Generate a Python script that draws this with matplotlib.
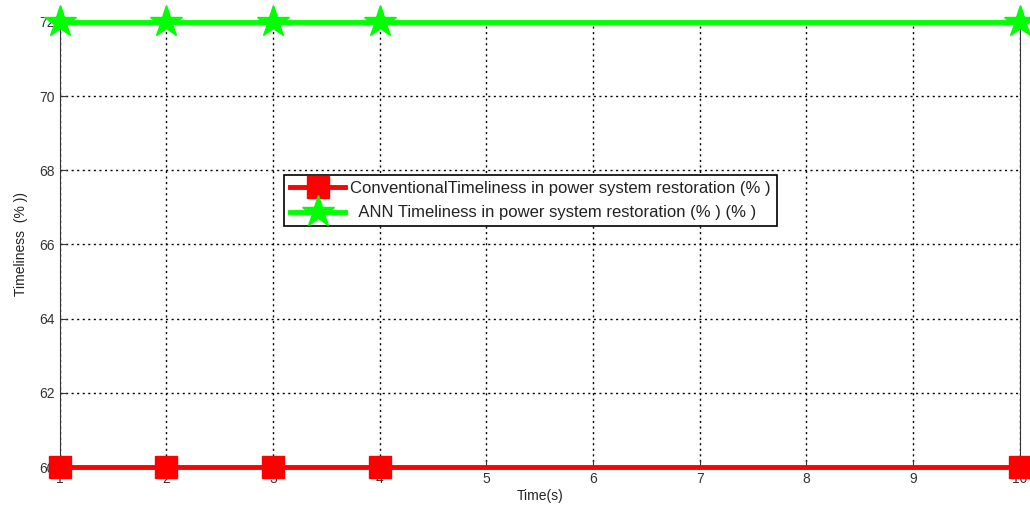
import matplotlib
matplotlib.use("Agg")
import matplotlib.pyplot as plt

plt.rcParams['font.family'] = ['Liberation Sans', 'DejaVu Sans']

time_s = [1, 2, 3, 4, 10]
conventional = [60, 60, 60, 60, 60]
ann = [72, 72, 72, 72, 72]
xticks = list(range(1, 11))
yticks = [60, 62, 64, 66, 68, 70, 72]

fig = plt.figure(figsize=(10.30, 5.18), dpi=100)
ax = fig.add_axes([0.058, 0.098, 0.932, 0.860])

ax.plot(time_s, conventional, color='#ff0000', linewidth=3.5, marker='s',
        markersize=16, label='ConventionalTimeliness in power system restoration (% )',
        clip_on=False, zorder=3)
ax.plot(time_s, ann, color='#00ff00', linewidth=3.5, marker='*',
        markersize=24, label='  ANN Timeliness in power system restoration (% ) (% )',
        clip_on=False, zorder=3)

ax.set_xlim(1, 10)
ax.set_ylim(60, 72)
ax.set_xticks(xticks)
ax.set_yticks(yticks)
ax.tick_params(direction='in', labelsize=10, colors='#333333', length=5)
ax.grid(True, color='black', linestyle=(0, (1.5, 2.5)), linewidth=1)
for s in ax.spines.values():
    s.set_color('#333333')

ax.set_xlabel('Time(s)', fontsize=10, labelpad=2, color='#222222')
ax.set_ylabel('Timeliness  (% ))', fontsize=10, labelpad=8, color='#222222')

leg = ax.legend(loc='upper left', bbox_to_anchor=(0.234, 0.655), fontsize=12,
                frameon=True, fancybox=False, edgecolor='black', framealpha=1,
                handlelength=3.3, handletextpad=0.3, borderpad=0.35,
                labelspacing=0.55, borderaxespad=0)
leg.get_frame().set_linewidth(1.2)
for t in leg.get_texts():
    t.set_color('#222222')

fig.savefig('out.png', dpi=100)
